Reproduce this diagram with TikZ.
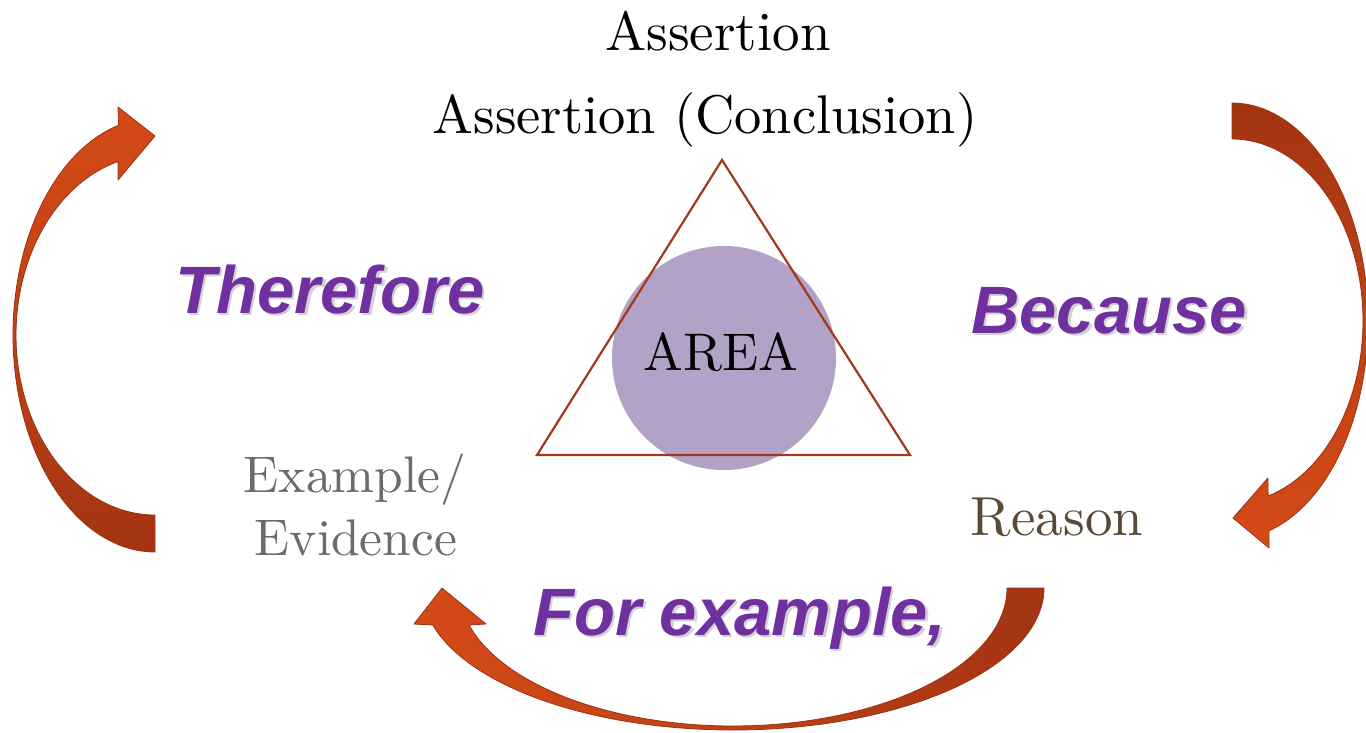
\documentclass[tikz,border=0pt]{standalone}
\usepackage{fontspec}
\setmainfont{lmroman10-regular.otf}
\newfontfamily\arialfont{Liberation Sans}
\definecolor{purp}{HTML}{7030A0}
\definecolor{circfill}{HTML}{B3A2C7}
\definecolor{trirule}{HTML}{A03A1A}
\definecolor{evgray}{HTML}{6B6B6B}
\definecolor{reasonbrown}{HTML}{594A38}
\definecolor{arrBright}{HTML}{D44A17}
\definecolor{arrDark}{HTML}{A33412}
\definecolor{arrLine}{HTML}{9A3314}
\tikzset{
  blockarrow/.style={draw=arrLine, line width=0.8pt, line join=round},
  romantext/.style={anchor=base, inner sep=0pt, font=\fontsize{53}{60}\selectfont},
  linkword/.style={anchor=base, inner sep=0pt, text=purp, font=\arialfont\bfseries\itshape\fontsize{67}{70}\selectfont},
  linkshadow/.style={linkword, text=black!35, opacity=0.5}
}
\begin{document}
\begin{tikzpicture}[x=1pt,y=-1pt]
\useasboundingbox (0,0) rectangle (1366,732);
% left curved arrow (Therefore)
\path[blockarrow, top color=arrBright, bottom color=arrDark, middle color=arrBright!60!arrDark]
  plot[domain=90:255.1,samples=90,variable=\t] ({155+142*cos(\t)},{335+217*sin(\t)})
  -- (118,107) -- (155,136) -- (118,180)
  -- plot[domain=254.6:90,samples=90,variable=\t] ({155+139*cos(\t)},{335+180*sin(\t)})
  -- cycle;
% right curved arrow (Because)
\path[blockarrow, top color=arrDark, bottom color=arrBright, middle color=arrBright!60!arrDark]
  plot[domain=-90:74.2,samples=90,variable=\t] ({1232+136*cos(\t)},{321+218*sin(\t)})
  -- (1269,548) -- (1233,518) -- (1268,478)
  -- plot[domain=74:-90,samples=90,variable=\t] ({1232+131*cos(\t)},{321+182*sin(\t)})
  -- cycle;
% bottom curved arrow (For example)
\path[blockarrow, left color=arrBright, right color=arrDark, middle color=arrBright!60!arrDark]
  plot[domain=0:164.9,samples=120,variable=\t] ({733+311*cos(\t)},{588+142*sin(\t)})
  -- (414,624) -- (442,588) -- (486,624)
  -- plot[domain=164.45:0,samples=120,variable=\t] ({733+274*cos(\t)},{588+138*sin(\t)})
  -- cycle;
% central figure
\node[circle, fill=circfill, minimum size=224pt, inner sep=0pt] (circ) at (724,358) {};
\coordinate (tA) at (722,160);
\coordinate (tB) at (537,455);
\coordinate (tC) at (910,455);
\draw[trirule, line width=2.2pt, line join=miter] (tA) -- (tB) -- (tC) -- cycle;
\node[romantext] (area) at (721,370) {AREA};
% texts
\node[romantext, font=\fontsize{55}{60}\selectfont] (assert1) at (718,50) {Assertion};
\node[romantext, font=\fontsize{54.5}{60}\selectfont] (assert2) at (705,133) {Assertion (Conclusion)};
\node[romantext, text=evgray, font=\fontsize{51.5}{60}\selectfont] (example) at (355,492) {Example/};
\node[romantext, text=evgray, font=\fontsize{51.5}{60}\selectfont] (evidence) at (356,555) {Evidence};
\node[romantext, text=reasonbrown, font=\fontsize{55}{60}\selectfont] (reason) at (1057,535) {Reason};
% linking words with shadow
\node[linkshadow] (thereforeS) at (332.5,315.5) {Therefore};
\node[linkword] (therefore) at (330,313) {Therefore};
\node[linkshadow] (becauseS) at (1111.5,335.5) {Because};
\node[linkword] (because) at (1109,333) {Because};
\node[linkshadow] (forexS) at (742.5,637.5) {For example,};
\node[linkword] (forex) at (740,635) {For example,};
\end{tikzpicture}
\end{document}
